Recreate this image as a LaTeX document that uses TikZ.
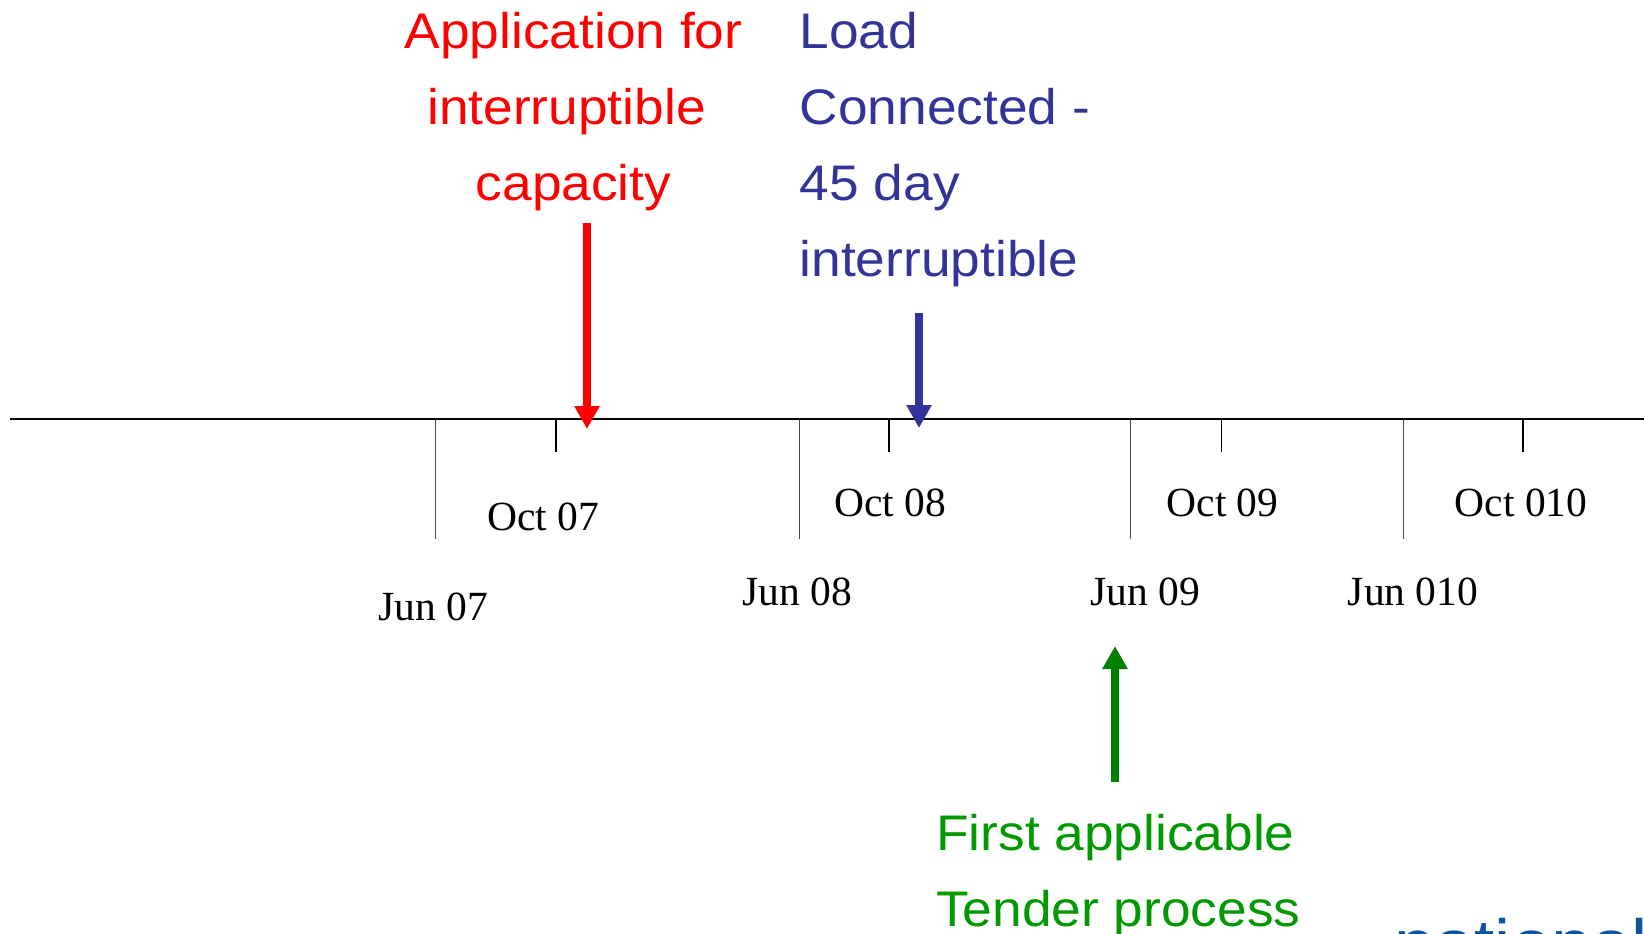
\documentclass[tikz,border=0pt]{standalone}
\usepackage{fontspec}
\setmainfont{Liberation Serif}
\newfontfamily\labelsans[FakeStretch=1.066]{Liberation Sans}
\usetikzlibrary{arrows.meta}
\definecolor{redtxt}{RGB}{255,0,0}
\definecolor{bluetxt}{RGB}{51,51,153}
\definecolor{greentxt}{RGB}{0,153,0}
\definecolor{greenarrow}{RGB}{0,128,0}
\definecolor{logoblue}{RGB}{10,85,160}

\begin{document}
\begin{tikzpicture}[x=1pt,y=-1pt,
  axis/.style={line width=1.5pt},
  majortick/.style={line width=1pt, black!70},
  minortick/.style={line width=1.6pt},
  datelabel/.style={anchor=base, inner sep=0pt, font=\fontsize{41.5}{41.5}\selectfont},
  callout/.style={inner sep=0pt, font=\labelsans\fontsize{50}{76}\selectfont},
  marker/.style={line width=8.3pt, -{Triangle[width=24pt,length=23pt]}},
]
\useasboundingbox (0,0) rectangle (1644,934);
\clip (0,0) rectangle (1644,934);

% time axis
\coordinate (axisL) at (10,419);
\coordinate (axisR) at (1644,419);
\draw[axis] (axisL) -- (axisR);

% June ticks (long)
\foreach \n/\x in {j7/435, j8/799, j9/1130, j10/1403} {
  \coordinate (\n top) at (\x,419);
  \coordinate (\n bot) at (\x,539);
  \draw[majortick] (\n top) -- (\n bot);
}
% October ticks (short)
\foreach \n/\x in {o7/556, o8/889, o9/1221.5, o10/1523} {
  \coordinate (\n top) at (\x,419);
  \coordinate (\n bot) at (\x,452);
  \draw[minortick] (\n top) -- (\n bot);
}

% date labels
\node[datelabel] (oct7)  at (543,530.5)  {Oct 07};
\node[datelabel] (oct8)  at (890,516)    {Oct 08};
\node[datelabel] (oct9)  at (1222.5,516) {Oct 09};
\node[datelabel] (oct10) at (1521,516)   {Oct 010};
\node[datelabel] (jun7)  at (433,620)    {Jun 07};
\node[datelabel] (jun8)  at (797,605.5)  {Jun 08};
\node[datelabel] (jun9)  at (1145,605.5) {Jun 09};
\node[datelabel] (jun10) at (1413,605.5) {Jun 010};

% event callouts
\node[callout, text=redtxt, align=center, anchor=north] (apply) at (573.5,11.7)
  {Application for\\interruptible\kern0.278em\\capacity};
\node[callout, text=bluetxt, align=left, anchor=north west] (load) at (799.5,12.5)
  {Load\\Connected -\\45 day\\interruptible};
\node[callout, text=greentxt, align=left, anchor=north west] (tender) at (936,814)
  {First applicable\\Tender process};

% event markers on the axis
\coordinate (applyFrom) at (587,223);
\coordinate (applyAt)   at (587,429);
\coordinate (loadFrom)  at (919,313);
\coordinate (loadAt)    at (919,428);
\coordinate (tenderFrom) at (1115,782);
\coordinate (tenderAt)   at (1115,646);
\draw[marker, redtxt]     (applyFrom)  -- (applyAt);
\draw[marker, bluetxt]    (loadFrom)   -- (loadAt);
\draw[marker, greenarrow] (tenderFrom) -- (tenderAt);

% logo text along the lower edge
\node[anchor=base west, inner sep=0pt, text=logoblue,
      font=\labelsans\fontsize{68}{68}\selectfont] (logo) at (1394,967) {national};
\end{tikzpicture}
\end{document}
